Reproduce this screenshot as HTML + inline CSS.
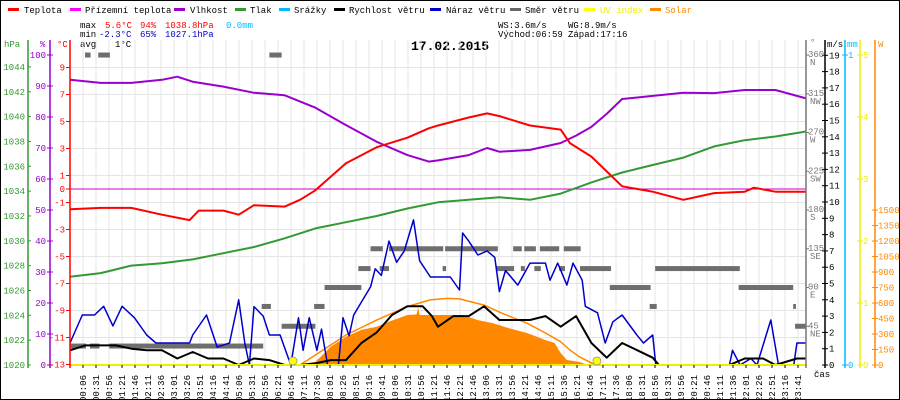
<!DOCTYPE html>
<html><head><meta charset="utf-8"><style>
html,body{margin:0;padding:0;background:#fff}
svg{display:block}
text{font-family:"Liberation Mono",monospace;font-size:9px}
</style></head><body>
<svg id="c" width="900" height="400" viewBox="0 0 900 400">
<rect x="0.5" y="0.5" width="899" height="399" fill="#fff" stroke="#000"/>
<g id="legend">
 <g><rect x="8" y="8" width="11" height="3" fill="#f00"/><text x="24" y="13">Teplota</text></g>
 <g><rect x="70" y="8" width="11" height="3" fill="#f0f"/><text x="85" y="13">Přízemní teplota</text></g>
 <g><rect x="174" y="8" width="11" height="3" fill="#90c"/><text x="190" y="13">Vlhkost</text></g>
 <g><rect x="235" y="8" width="11" height="3" fill="#393"/><text x="250" y="13">Tlak</text></g>
 <g><rect x="279" y="8" width="11" height="3" fill="#0bf"/><text x="294" y="13">Srážky</text></g>
 <g><rect x="334" y="8" width="11" height="3" fill="#000"/><text x="349" y="13">Rychlost větru</text></g>
 <g><rect x="430" y="8" width="11" height="3" fill="#00c"/><text x="446" y="13">Náraz větru</text></g>
 <g><rect x="510" y="8" width="11" height="3" fill="#666"/><text x="525" y="13">Směr větru</text></g>
 <g><rect x="584" y="8" width="11" height="3" fill="#ff0"/><text x="600" y="13" fill="#ee0">UV index</text></g>
 <g><rect x="650" y="8" width="11" height="3" fill="#f80"/><text x="665" y="13" fill="#f80">Solar</text></g>
</g>
<g>
 <text x="80" y="28">max</text><text x="105" y="28" fill="#f00">5.6°C</text><text x="140" y="28" fill="#f00">94%</text><text x="165" y="28" fill="#f00">1038.8hPa</text><text x="226" y="28" fill="#0bf">0.0mm</text>
 <text x="80" y="37">min</text><text x="99" y="37" fill="#00c">-2.3°C</text><text x="140" y="37" fill="#00c">65%</text><text x="165" y="37" fill="#00c">1027.1hPa</text>
 <text x="80" y="47">avg</text><text x="115" y="47">1°C</text>
 <text x="498" y="28">WS:3.6m/s</text><text x="568" y="28">WG:8.9m/s</text>
 <text x="498" y="37">Východ:06:59</text><text x="568" y="37">Západ:17:16</text>
</g>
<text x="450" y="50" text-anchor="middle" style="font-size:13px;font-weight:bold">17.02.2015</text>
<g id="grid"></g>
<g id="series"></g>
<g id="axes"></g>
</svg>
<script>
// hours of day for each sample
const tempHours=[0,1,2,3,3.9,4.2,5,5.5,6,7,7.5,8,9,10,11,11.7,12,13,13.6,14,15,16,16.3,17,17.5,18,19,20,21,22,22.3,23,24];
const tempValues=[-1.5,-1.4,-1.4,-1.9,-2.3,-1.6,-1.6,-1.9,-1.2,-1.3,-0.8,-0.1,1.9,3.1,3.8,4.5,4.7,5.3,5.6,5.4,4.7,4.4,3.4,2.4,1.3,0.2,-0.2,-0.8,-0.3,-0.2,0.1,-0.2,-0.2];
const humHours=[0,1,2,3,3.5,4,5,6,7,8,9,10,11,11.7,12,13,13.6,14,15,16,16.5,17,17.5,18,19,20,21,22,23,24];
const humValues=[92,91,91,92,93,91.4,89.8,87.8,87,83,77.4,72,67.7,65.6,66,67.7,70,68.8,69.4,71.6,74,76.8,81,85.8,86.8,87.8,87.7,88.7,88.7,86];
const presHours=[0,1,2,3,4,5,6,7,8,9,10,11,12,13,14,15,16,17,18,19,20,21,22,23,24];
const presValues=[1027.1,1027.4,1028.0,1028.2,1028.5,1029.0,1029.5,1030.2,1031.0,1031.5,1032.0,1032.6,1033.1,1033.3,1033.5,1033.3,1033.8,1034.7,1035.5,1036.1,1036.7,1037.6,1038.1,1038.4,1038.8];
const windHours=[0,0.5,1,1.5,2,2.5,3,3.5,4,4.5,5,5.5,6,6.5,7,7.5,8,8.5,9,9.5,10,10.5,11,11.5,11.8,12,12.5,13,13.5,14,14.5,15,15.5,16,16.5,17,17.5,18,18.5,19,19.2,21.5,22,22.6,23,23.7,24];
const windValues=[0.9,1.2,1.2,1.2,1.0,0.9,0.9,0.4,0.8,0.4,0.4,0,0.4,0.3,0,0,0.1,0.3,0.3,1.35,2.0,3.07,3.6,3.6,3.0,2.35,3.0,3.0,3.6,2.76,2.76,2.76,3.0,2.35,3.0,1.35,0.45,1.35,0.9,0.45,0,0,0.4,0.4,0,0.4,0.4];
const gustHours=[0,0.4,0.8,1.1,1.4,1.7,2.1,2.5,2.8,3.9,4,4.45,4.8,5.2,5.5,5.7,5.85,6,6.3,6.5,6.85,7.2,7.45,7.6,7.8,8.05,8.2,8.4,8.75,8.9,9.1,9.25,9.45,9.8,9.95,10.15,10.4,10.65,10.9,11.2,11.4,11.75,12.4,12.7,12.8,13,13.3,13.6,13.85,14,14.2,14.6,15,15.5,15.65,15.9,16.2,16.4,16.7,16.8,17.2,17.45,17.7,18,18.5,18.7,19,19.1,21.5,21.6,21.85,22.2,22.4,22.85,23.1,23.6,23.7,24];
const gustValues=[1.35,3.07,3.07,3.6,2.4,3.6,2.9,1.84,1.35,1.35,1.84,3.07,1.1,1.35,4.0,1.35,0,3.58,3.0,1.84,1.84,0,2.9,0.9,2.9,0.9,2.2,0,0,2.9,1.8,3.07,3.7,4.8,5.9,5.5,7.6,6.3,7.0,8.9,6.4,5.4,5.4,4.6,8.1,7.6,6.75,7.0,6.6,4.5,5.8,4.9,6.25,6.25,5.2,6.25,4.9,6.25,5.2,3.6,3.2,1.35,2.65,3.07,1.8,1.35,1.84,0,0,0.9,0,0.4,0,2.76,0,0,1.35,1.35];
// wind direction readings: [start hour, end hour, degrees]
const dirStart=[0.49,0.92,6.5,0,0.65,1.28,6.25,7.96,6.9,8.3,9.4,10.1,9.8,10.4,12.23,14.45,14.81,15.32,16.1,12.15,13.9,14.7,15.14,15.95,16.63,19.08,17.6,21.8,18.9,23.58,23.64];
const dirEnd=[0.67,1.3,6.9,0.52,0.96,6.3,6.55,8.3,8.0,9.5,9.8,10.4,10.2,12.17,13.95,14.73,15.19,15.95,16.65,12.26,14.48,14.83,15.35,16.14,17.64,21.84,18.93,23.58,19.13,23.67,24];
const dirValues=[360,360,360,22,22,22,68,68,45,90,112,112,135,135,135,135,135,135,135,112,112,112,112,112,112,112,90,90,68,68,45];
const solarMaxHours=[7.5,8,9,10,11,11.74,12.3,12.7,13.5,14.1,14.9,15.5,16,16.3,16.6,17,17.1];
const solarMaxValues=[0,97,290,435,565,630,645,640,580,500,405,310,225,145,80,20,0];
const solarHours=[7.3,8,8.5,9,9.5,10,10.4,11,11.3,11.35,11.4,11.7,12.8,13.3,13.8,14.3,14.9,15.5,15.8,16,16.2,16.6,16.9];
const solarValues=[0,30,177,274,340,370,420,484,490,560,484,484,484,435,405,357,310,242,213,116,48,30,0];
const sunHours=[7.27,17.18];
const timeLabels=["00:06","00:31","00:56","01:21","01:46","02:11","02:36","03:01","03:26","03:51","04:16","04:41","05:06","05:31","05:56","06:21","06:46","07:11","07:36","08:01","08:26","08:51","09:16","09:41","10:06","10:31","10:56","11:21","11:46","12:21","12:46","13:06","13:31","13:56","14:21","14:46","15:11","15:36","16:21","16:46","17:11","17:36","18:06","18:31","18:56","19:31","19:56","20:21","20:46","21:11","21:36","22:01","22:26","22:51","23:16","23:41"];
const hpaTicks=[1020,1022,1024,1026,1028,1030,1032,1034,1036,1038,1040,1042,1044];
const humTicks=[0,10,20,30,40,50,60,70,80,90,100];
const tempTicks=[9,7,5,3,1,0,-1,-3,-5,-7,-9,-11,-13];
const msTicks=[0,1,2,3,4,5,6,7,8,9,10,11,12,13,14,15,16,17,18,19];
const dirTicks=[45,90,135,180,225,270,315,360];
const dirNames=["NE","E","SE","S","SW","W","NW","N"];
const uvTicks=[0,1,2,3,4,5];
const wTicks=[0,150,300,450,600,750,900,1050,1200,1350,1500];

const NS="http://www.w3.org/2000/svg";
const X0=70,X1=806,YB=365;
const xH=h=>X0+h*30.67;
const yT=t=>189-t*13.5;
const yHum=p=>YB-p*3.1;
const yP=p=>YB-(p-1020)*12.42;
const yMs=v=>YB-v*16.3;
const yDir=d=>YB-d*0.861;
const yW=w=>YB-w*0.1033;
const yUv=u=>YB-u*62;
function mk(tag,attrs,parent){const e=document.createElementNS(NS,tag);for(const k in attrs)e.setAttribute(k,attrs[k]);parent.appendChild(e);return e;}
const grid=document.getElementById('grid'),series=document.getElementById('series'),axes=document.getElementById('axes');

// grid
timeLabels.forEach((l,i)=>{const x=83+i*13;
 const g=mk('line',{x1:x,x2:x,y1:40,y2:YB,stroke:'#e4e4e4','stroke-width':1},grid);
 
 
 mk('line',{x1:x,x2:x,y1:YB,y2:YB+3,stroke:'#000'},axes);
 const t=mk('text',{transform:`translate(${x+3},375) rotate(-90)`,'text-anchor':'end'},axes);
 t.textContent=l;
 
 
});
[9,7,5,3,1,-1,-3,-5,-7,-9,-11].forEach(t=>{const y=yT(t);
 const g=mk('line',{x1:X0,x2:X1,y1:y,y2:y,stroke:'#e4e4e4'},grid);
 
 
});

function line(hs,vs,sy,color,name,w){
 const pts=hs.map((h,i)=>xH(h).toFixed(1)+','+sy(vs[i]).toFixed(1)).join(' ');
 const p=mk('polyline',{points:pts,fill:'none',stroke:color,'stroke-width':w||2,'stroke-linejoin':'round'},series);
 
 
}
// solar fill
{const pts=[xH(solarHours[0])+','+YB].concat(solarHours.map((h,i)=>xH(h).toFixed(1)+','+yW(solarValues[i]).toFixed(1))).concat([xH(solarHours[solarHours.length-1])+','+YB]).join(' ');
 const p=mk('polygon',{points:pts,fill:'#f80'},series);
 
 }
// 0°C line
{const z=mk('line',{x1:X0,x2:X1,y1:yT(0),y2:yT(0),stroke:'#c0c',},series);
 
 }
// direction
dirValues.forEach((d,i)=>{const r=mk('rect',{x:xH(dirStart[i]),y:yDir(d)-2.5,width:Math.max(2,xH(dirEnd[i])-xH(dirStart[i])),height:5,fill:'#6e6e6e'},series);
 
 });
line(solarMaxHours,solarMaxValues,yW,'#f80','solar-max-line',1.5);
line(presHours,presValues,yP,'#393','pressure-line');
line(humHours,humValues,yHum,'#90c','humidity-line');
line(tempHours,tempValues,yT,'#f00','temperature-line');
line(gustHours,gustValues,yMs,'#00c','wind-gust-line',1.5);
line(windHours,windValues,yMs,'#000','wind-speed-line',2);
{const u=mk('line',{x1:X0,x2:X1,y1:YB,y2:YB,stroke:'#ee0','stroke-width':2},series);
 
 }
sunHours.forEach(h=>{const c=mk('circle',{cx:xH(h),cy:YB-4,r:4,fill:'#ff0',stroke:'#888','stroke-width':0.7},series);
 
 });

// axes
function vaxis(x,color,name){const a=mk('line',{x1:x,x2:x,y1:40,y2:YB+3,stroke:color,'stroke-width':1.5},axes);
 
 }
function lbl(x,y,s,color,anchor,name){const t=mk('text',{x:x,y:y,fill:color,'text-anchor':anchor},axes);t.textContent=s;
 
 return t;}
vaxis(28,'#393','hpa-axis');vaxis(50,'#90c','humidity-axis');vaxis(70,'#f00','temperature-axis');
vaxis(806,'#777','direction-axis');vaxis(825,'#000','wind-axis');vaxis(845,'#0bf','rain-axis');vaxis(860,'#ee0','uv-axis');vaxis(875,'#f80','solar-axis');
lbl(4,47,'hPa','#393','start','hpa-axis-title');lbl(40,47,'%','#90c','start','humidity-axis-title');lbl(57,47,'°C','#f00','start','temperature-axis-title');
lbl(810,45,'°','#777','start','direction-axis-title');lbl(827,47,'m/s','#000','start','wind-axis-title');lbl(847,47,'mm','#0bf','start','rain-axis-title');lbl(878,47,'W','#f80','start','solar-axis-title');
lbl(814,377,'čas','#000','start','time-axis-title');
hpaTicks.forEach(v=>{const y=yP(v);mk('line',{x1:28,x2:31,y1:y,y2:y,stroke:'#393'},axes);lbl(25,y+3,v,'#393','end','hpa-tick-label');});
humTicks.forEach(v=>{const y=yHum(v);mk('line',{x1:47,x2:53,y1:y,y2:y,stroke:'#90c'},axes);lbl(46,y+3,v,'#90c','end','humidity-tick-label');});
tempTicks.forEach(v=>{const y=yT(v);mk('line',{x1:66,x2:70,y1:y,y2:y,stroke:'#f00'},axes);lbl(65,y+3,v,'#f00','end','temperature-tick-label');});
msTicks.forEach(v=>{const y=yMs(v);mk('line',{x1:822,x2:828,y1:y,y2:y,stroke:'#000'},axes);lbl(829,y+3,v,'#000','start','wind-tick-label');});
dirTicks.forEach((v,i)=>{const y=yDir(v);mk('line',{x1:806,x2:809,y1:y,y2:y,stroke:'#777'},axes);lbl(808,y+2,v,'#777','start','direction-tick-label');lbl(810,y+10,dirNames[i],'#777','start','direction-name-label');});
[0,1].forEach(v=>{const y=v?55:YB;mk('line',{x1:842,x2:848,y1:y,y2:y,stroke:'#0bf'},axes);lbl(848,y+3,v,'#0bf','start','rain-tick-label');});
uvTicks.forEach(v=>{const y=yUv(v);mk('line',{x1:857,x2:863,y1:y,y2:y,stroke:'#ee0'},axes);lbl(863,y+3,v,'#ee0','start','uv-tick-label');});
wTicks.forEach(v=>{const y=yW(v);mk('line',{x1:872,x2:878,y1:y,y2:y,stroke:'#f80'},axes);lbl(878,y+3,v,'#f80','start','solar-tick-label');});
</script>
</body></html>
